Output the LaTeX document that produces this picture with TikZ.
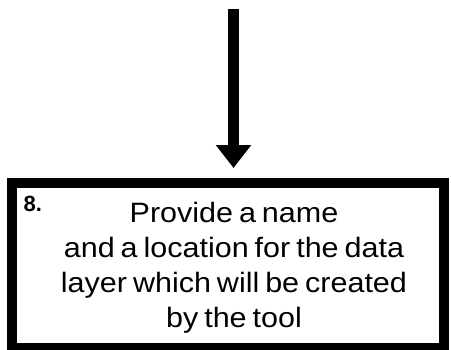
\documentclass[tikz,border=0pt]{standalone}
\usepackage{fontspec}
\setmainfont{Liberation Sans}
\newfontfamily\widefont[FakeStretch=1.09,WordSpace=0.7]{Liberation Sans}
\usetikzlibrary{arrows.meta}
\begin{document}
\begin{tikzpicture}[x=1bp,y=-1bp,
  stepbox/.style={draw=black,line width=10bp,minimum width=431.5bp,minimum height=165bp,inner sep=0pt},
  flow/.style={line width=11bp,-{Triangle[width=34bp,length=23bp]}},
  maintext/.style={align=center,font=\widefont\fontsize{28bp}{34.7bp}\selectfont,inner sep=0pt},
  numlabel/.style={font=\fontsize{22bp}{24bp}\selectfont\bfseries,inner sep=0pt,anchor=base west}]
\useasboundingbox[fill=white] (0,0) rectangle (451,349);
\node[stepbox] (box) at (228.25,265.5) {};
\coordinate (start) at (233.5,9);
\draw[flow,shorten >=10bp] (start) -- (start |- box.north);
\node[maintext,anchor=base] (txt) at (234,327) {Provide a name\\and a location for the data\\layer which will be created\\by the tool};
\node[numlabel] (num) at (23.5,211) {8.};
\end{tikzpicture}
\end{document}
